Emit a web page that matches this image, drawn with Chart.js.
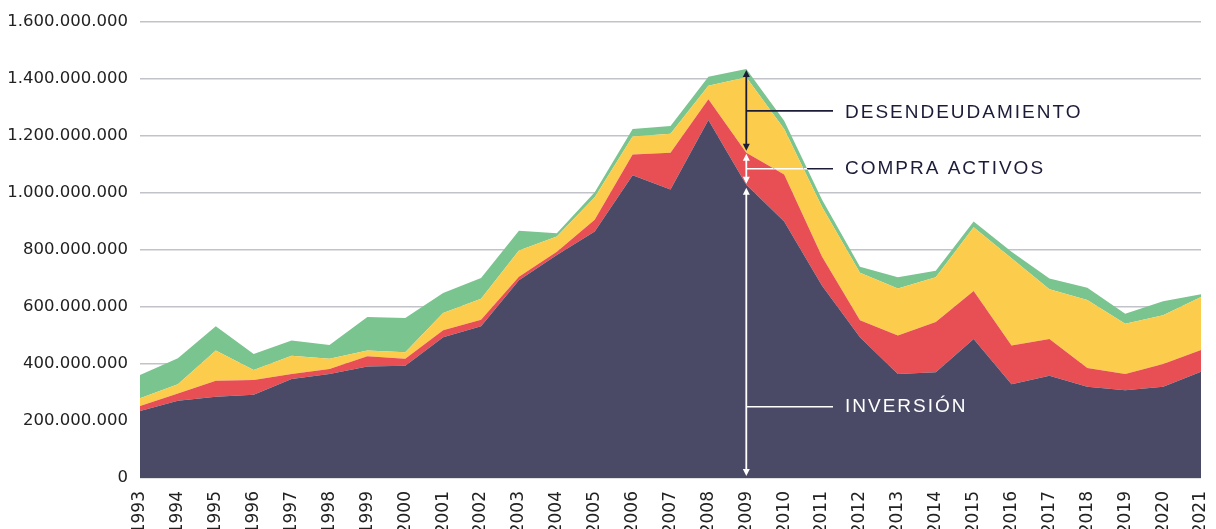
<!DOCTYPE html>
<html>
<head>
<meta charset="utf-8">
<script src="https://cdn.jsdelivr.net/npm/chart.js@4.4.1/dist/chart.umd.min.js"></script>
<style>
  html, body { margin: 0; padding: 0; background: #fff; }
  #wrap { width: 1216px; height: 529px; overflow: hidden; }
</style>
</head>
<body>
<div id="wrap"><canvas id="chart" width="1216" height="529"></canvas></div>
<script>
// values in millions (each layer = its own thickness)
const years = ["1993", "1994", "1995", "1996", "1997", "1998", "1999", "2000", "2001", "2002",
  "2003", "2004", "2005", "2006", "2007", "2008", "2009", "2010", "2011", "2012",
  "2013", "2014", "2015", "2016", "2017", "2018", "2019", "2020", "2021"];
const inversion = [235, 271, 285, 292, 347, 365, 391, 394, 494, 532,
  694, 782, 865, 1062, 1012, 1256, 1029, 900, 674, 494,
  365, 371, 488, 329, 359, 320, 308, 320, 373];
const compraActivos = [18, 25, 56, 52, 18, 17, 36, 24, 24, 23,
  12, 12, 41, 73, 129, 73, 112, 165, 102, 59,
  135, 176, 168, 136, 129, 66, 57, 80, 76];
const desendeudamiento = [27, 33, 106, 35, 64, 36, 20, 23, 61, 74,
  92, 53, 79, 63, 67, 47, 265, 159, 175, 167,
  165, 157, 224, 306, 174, 238, 176, 171, 186];
const otros = [81, 91, 85, 56, 53, 49, 118, 120, 70, 73,
  69, 12, 17, 26, 27, 32, 29, 29, 25, 21,
  39, 23, 20, 23, 38, 43, 35, 49, 10];
const yTicks = [0, 200, 400, 600, 800, 1000, 1200, 1400, 1600];

const markYear = "2009";
const inversionLabelValue = 250; // where the INVERSIÓN label sits (millions)

const colors = {
  inversion: "#4a4a66",
  compra: "#e84f54",
  desend: "#fccd4d",
  otros: "#7ac48f",
  ink: "#1c1c38",
};

const M = 1e6;
const toUnits = (arr) => arr.map((v) => v * M);
const formatDots = (v) => String(Math.round(v)).replace(/\B(?=(\d{3})+(?!\d))/g, ".");

function layer(label, data, color, fill) {
  return {
    label,
    data: toUnits(data),
    backgroundColor: color,
    borderColor: color,
    borderWidth: 0,
    pointRadius: 0,
    tension: 0,
    fill,
  };
}

function drawArrow(ctx, x, y1, y2, color) {
  const head = 7;
  ctx.strokeStyle = color;
  ctx.fillStyle = color;
  ctx.lineWidth = 1.8;
  ctx.beginPath();
  ctx.moveTo(x, y1 + head - 1);
  ctx.lineTo(x, y2 - head + 1);
  ctx.stroke();
  ctx.beginPath();
  ctx.moveTo(x, y1);
  ctx.lineTo(x - 3.5, y1 + head);
  ctx.lineTo(x + 3.5, y1 + head);
  ctx.closePath();
  ctx.fill();
  ctx.beginPath();
  ctx.moveTo(x, y2);
  ctx.lineTo(x - 3.5, y2 - head);
  ctx.lineTo(x + 3.5, y2 - head);
  ctx.closePath();
  ctx.fill();
}

function drawLabel(ctx, text, x, y, color) {
  ctx.fillStyle = color;
  ctx.font = "19px 'Liberation Sans', Arial, sans-serif";
  ctx.letterSpacing = "2px";
  ctx.textBaseline = "middle";
  ctx.textAlign = "left";
  ctx.fillText(text, x, y);
}

const annotations = {
  id: "annotations",
  afterDraw(chart) {
    const { ctx, scales } = chart;
    const i = years.indexOf(markYear);
    const x = scales.x.getPixelForValue(i);
    const c0 = inversion[i];
    const c1 = c0 + compraActivos[i];
    const c3 = c1 + desendeudamiento[i] + otros[i];
    const yTop = scales.y.getPixelForValue(c3 * M);
    const yRed = scales.y.getPixelForValue(c1 * M);
    const yDark = scales.y.getPixelForValue(c0 * M);
    const yBase = scales.y.getPixelForValue(0);
    const lineEnd = 833;
    const textX = 845;

    ctx.save();
    drawArrow(ctx, x, yTop + 1, yRed - 2, colors.ink);
    drawArrow(ctx, x, yRed + 1, yDark - 1, "#ffffff");
    drawArrow(ctx, x, yDark + 3, yBase - 2, "#ffffff");

    ctx.lineWidth = 1.6;
    // desendeudamiento connector
    const yD = (yTop + yRed) / 2;
    ctx.strokeStyle = colors.ink;
    ctx.beginPath();
    ctx.moveTo(x, yD);
    ctx.lineTo(lineEnd, yD);
    ctx.stroke();

    // compra activos connector: white over the areas, dark outside
    const yC = (yRed + yDark) / 2;
    ctx.globalCompositeOperation = "source-atop";
    ctx.strokeStyle = "#ffffff";
    ctx.beginPath();
    ctx.moveTo(x, yC);
    ctx.lineTo(lineEnd, yC);
    ctx.stroke();
    ctx.globalCompositeOperation = "destination-over";
    ctx.strokeStyle = colors.ink;
    ctx.beginPath();
    ctx.moveTo(x, yC);
    ctx.lineTo(lineEnd, yC);
    ctx.stroke();
    ctx.globalCompositeOperation = "source-over";

    // inversión connector
    const yI = scales.y.getPixelForValue(inversionLabelValue * M);
    ctx.strokeStyle = "#ffffff";
    ctx.beginPath();
    ctx.moveTo(x, yI);
    ctx.lineTo(lineEnd, yI);
    ctx.stroke();

    drawLabel(ctx, "DESENDEUDAMIENTO", textX, yD + 2, colors.ink);
    drawLabel(ctx, "COMPRA ACTIVOS", textX, yC, colors.ink);
    drawLabel(ctx, "INVERSIÓN", textX, yI, "#ffffff");
    ctx.restore();
  },
};

const tickFont = { family: "'DejaVu Sans', sans-serif", size: 16.5 };

new Chart(document.getElementById("chart").getContext("2d"), {
  type: "line",
  data: {
    labels: years,
    datasets: [
      layer("Inversión", inversion, colors.inversion, "origin"),
      layer("Compra activos", compraActivos, colors.compra, "-1"),
      layer("Desendeudamiento", desendeudamiento, colors.desend, "-1"),
      layer("Otros", otros, colors.otros, "-1"),
    ],
  },
  options: {
    responsive: false,
    animation: false,
    layout: { padding: { top: 20, right: 0, left: 0, bottom: 0 } },
    plugins: {
      legend: { display: false },
      tooltip: { enabled: false },
    },
    scales: {
      x: {
        offset: false,
        grid: { display: false, drawTicks: false },
        border: { display: false },
        ticks: {
          color: "#222",
          font: { family: "'DejaVu Sans', sans-serif", size: 17 },
          minRotation: 90,
          maxRotation: 90,
          autoSkip: false,
          padding: 13,
        },
        afterFit: (scale) => {
          scale.height = 51;
          scale.paddingLeft = 0;
          scale.paddingRight = 15;
        },
      },
      y: {
        stacked: true,
        min: 0,
        max: yTicks[yTicks.length - 1] * M,
        z: 1,
        afterBuildTicks: (scale) => { scale.ticks = yTicks.map((v) => ({ value: v * M })); },
        grid: { color: "rgba(25, 35, 50, 0.27)", lineWidth: 1.5, drawTicks: false },
        border: { display: false },
        ticks: {
          color: "#222",
          font: tickFont,
          padding: 12,
          callback: (value) => formatDots(value),
        },
        afterFit: (scale) => { scale.width = 140; },
      },
    },
  },
  plugins: [annotations],
});
</script>
</body>
</html>
